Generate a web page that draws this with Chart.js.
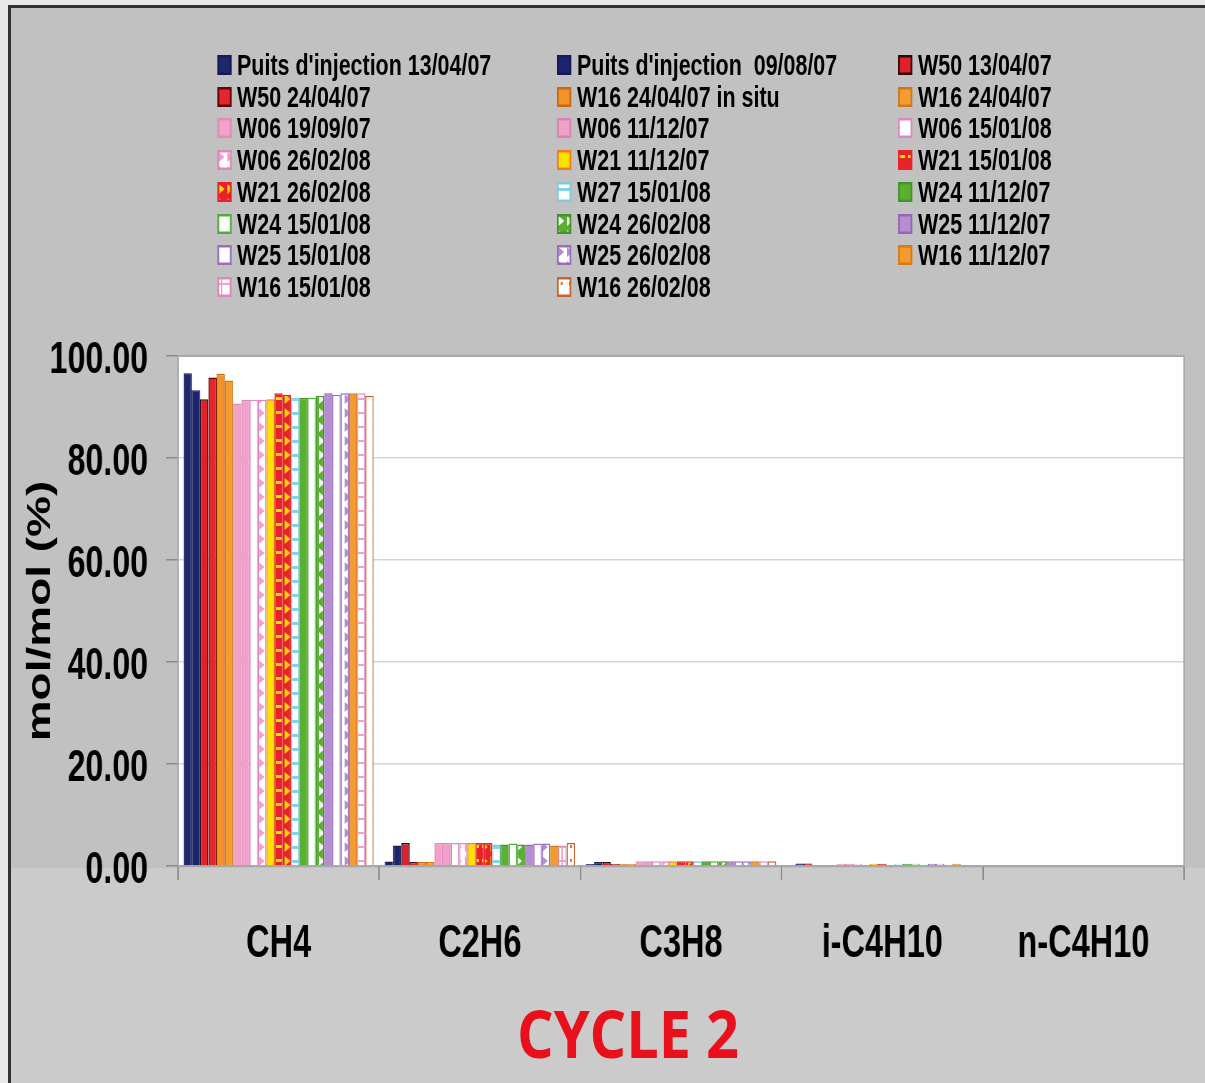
<!DOCTYPE html>
<html><head><meta charset="utf-8">
<script src="https://cdn.jsdelivr.net/npm/chart.js@4.4.1/dist/chart.umd.min.js"></script>
<style>
html,body{margin:0;padding:0;width:1205px;height:1083px;overflow:hidden;background:#e8e8e8;}
#frame{position:absolute;left:8px;top:5px;width:1197px;height:1078px;box-sizing:border-box;border-top:3px solid #333;border-left:3px solid #333;
  background:linear-gradient(to bottom,#c1c1c1 0,#c1c1c1 860px,#cbcbcb 860px,#cbcbcb 100%);}
#squash{position:absolute;left:0;top:0;width:1685px;height:1083px;transform:scaleX(0.715);transform-origin:0 0;}
#c{position:absolute;left:0;top:0;}
.item{position:absolute;height:32px;display:flex;align-items:center;font:bold 30px 'Liberation Sans',Arial,sans-serif;color:#000;white-space:pre;}
.item canvas{margin-right:8px;flex:none;}
#cycle{position:absolute;left:328px;top:999px;width:600px;text-align:center;font:bold 67px 'Open Sans','Noto Sans',sans-serif;line-height:1;color:#e8111b;transform:scaleX(0.86);}
</style></head>
<body>
<div id="frame"></div>
<div id="squash"><canvas id="c" width="1685" height="1083"></canvas><div id="legend"></div></div>
<div id="cycle">CYCLE 2</div>
<script>
// ---------- data ----------
const categories = ['CH4', 'C2H6', 'C3H8', 'i-C4H10', 'n-C4H10'];
const seriesNames = [
  "Puits d'injection 13/04/07", "Puits d'injection  09/08/07", "W50 13/04/07",
  "W50 24/04/07", "W16 24/04/07 in situ", "W16 24/04/07",
  "W06 19/09/07", "W06 11/12/07", "W06 15/01/08",
  "W06 26/02/08", "W21 11/12/07", "W21 15/01/08",
  "W21 26/02/08", "W27 15/01/08", "W24 11/12/07",
  "W24 15/01/08", "W24 26/02/08", "W25 11/12/07",
  "W25 15/01/08", "W25 26/02/08", "W16 11/12/07",
  "W16 15/01/08", "W16 26/02/08"
];
const ch4    = [96.6, 93.3, 91.5, 95.8, 96.5, 95.2, 90.7, 91.4, 91.4, 91.4, 91.5, 92.7, 92.4, 91.8, 91.8, 91.8, 92.2, 92.7, 92.4, 92.7, 92.7, 92.7, 92.2];
const c2h6   = [0.9, 4.0, 4.5, 0.8, 0.8, 0.8, 4.5, 4.5, 4.5, 4.5, 4.5, 4.5, 4.5, 4.2, 4.2, 4.4, 4.2, 4.2, 4.4, 4.4, 4.0, 4.0, 4.5];
const c3h8   = [0.4, 0.8, 0.8, 0.4, 0.4, 0.4, 0.95, 0.95, 0.95, 0.95, 0.95, 0.95, 0.95, 0.95, 0.95, 0.95, 0.95, 0.95, 0.95, 0.95, 0.95, 0.95, 0.95];
const iC4h10 = [0, 0.5, 0.5, 0, 0, 0, 0.45, 0.45, 0.45, 0, 0.45, 0.45, 0, 0.45, 0.45, 0.45, 0, 0.45, 0.45, 0, 0.45, 0, 0];
const nC4h10 = [0, 0, 0, 0, 0, 0, 0, 0, 0, 0, 0, 0, 0, 0, 0, 0, 0, 0, 0, 0, 0, 0, 0];
const yTickValues = [0, 20, 40, 60, 80, 100];

// ---------- styles ----------
function pat(kind, fg, bg) {
  const c = document.createElement('canvas');
  const w = 12, h = 14;
  c.width = w; c.height = h;
  const g = c.getContext('2d');
  g.fillStyle = bg; g.fillRect(0, 0, w, h);
  g.fillStyle = fg;
  if (kind === 'tri') { g.beginPath(); g.moveTo(2, 2); g.lineTo(10, 7); g.lineTo(2, 12); g.closePath(); g.fill(); }
  else if (kind === 'hline') { g.fillRect(0, 6, w, 3); }
  else if (kind === 'grid') { g.fillRect(0, 6, w, 2); g.fillRect(5, 0, 2, h); }
  else if (kind === 'dash') { g.fillRect(2, 5, 8, 3); }
  else if (kind === 'dot') { g.fillRect(5, 5, 3, 3); }
  return g.createPattern(c, 'repeat');
}
const styles = [
  {bg: '#1e276e', bd: '#141a55'},
  {bg: '#1c2470', bd: '#141a55'},
  {bg: '#e2202a', bd: '#2a0a0a'},
  {bg: '#e8242c', bd: '#5a0a0a'},
  {bg: '#f3922a', bd: '#c86814'},
  {bg: '#f59c30', bd: '#c87a1c'},
  {bg: '#f2a2c8', bd: '#e58ab8'},
  {bg: '#f0a0ca', bd: '#d785b5'},
  {bg: '#ffffff', bd: '#de86c0'},
  {bg: pat('tri', '#f0a0cc', '#ffffff'), bd: '#de86c0'},
  {bg: '#ffe100', bd: '#f07a1e'},
  {bg: pat('dash', '#ffe100', '#e8222a'), bd: '#e8222a'},
  {bg: pat('tri', '#ffd800', '#e8222a'), bd: '#e8222a'},
  {bg: pat('hline', '#80d4e6', '#ffffff'), bd: '#7ccbe0'},
  {bg: '#5bb030', bd: '#40962a'},
  {bg: '#ffffff', bd: '#4fae3c'},
  {bg: pat('tri', '#ffffff', '#5bb030'), bd: '#40962a'},
  {bg: '#b48ed0', bd: '#9466b8'},
  {bg: '#ffffff', bd: '#9a6ebd'},
  {bg: pat('tri', '#b48ed0', '#ffffff'), bd: '#9a6ebd'},
  {bg: '#f59a2c', bd: '#d47a18'},
  {bg: pat('grid', '#f0a0cc', '#ffffff'), bd: '#de86c0'},
  {bg: pat('dot', '#e07a30', '#ffffff'), bd: '#c8642a'}
];

const byCategory = [ch4, c2h6, c3h8, iC4h10, nC4h10];
const datasets = seriesNames.map((name, i) => ({
  label: name,
  data: byCategory.map(arr => arr[i]),
  backgroundColor: styles[i].bg,
  borderColor: styles[i].bd,
  borderWidth: 1.5,
  borderSkipped: 'start'
}));

// ---------- legend (HTML, 3 columns, row-major) ----------
const legendEl = document.getElementById('legend');
const colX = [303.5, 779, 1256];
datasets.forEach((ds, i) => {
  const r = Math.floor(i / 3), col = i % 3;
  const cy = 65 + 31.7 * r;
  const item = document.createElement('div');
  item.className = 'item';
  item.style.left = colX[col] + 'px';
  item.style.top = (cy - 16) + 'px';
  const sw = document.createElement('canvas');
  sw.width = 20; sw.height = 20;
  const g = sw.getContext('2d');
  g.fillStyle = ds.backgroundColor; g.fillRect(0, 0, 20, 20);
  g.strokeStyle = ds.borderColor; g.lineWidth = 2.5; g.strokeRect(1.25, 1.25, 17.5, 17.5);
  item.appendChild(sw);
  const t = document.createElement('span');
  t.textContent = ds.label;
  item.appendChild(t);
  legendEl.appendChild(item);
});

// ---------- chart ----------
const FONT = "'Liberation Sans', Arial, sans-serif";
const plotBg = {
  id: 'plotBg',
  beforeDraw(chart) {
    const {ctx, chartArea: a} = chart;
    ctx.save(); ctx.fillStyle = '#ffffff'; ctx.fillRect(a.left, a.top, a.right - a.left, a.bottom - a.top); ctx.restore();
  },
  beforeDatasetsDraw(chart) {
    const {ctx, chartArea: a} = chart;
    ctx.save(); ctx.strokeStyle = '#a8a8a8'; ctx.lineWidth = 2;
    ctx.strokeRect(a.left, a.top, a.right - a.left, a.bottom - a.top); ctx.restore();
  }
};
new Chart(document.getElementById('c'), {
  type: 'bar',
  data: {labels: categories, datasets},
  options: {
    responsive: false, animation: false, devicePixelRatio: 1,
    layout: {padding: {left: 0, right: 29, top: 356, bottom: 97}},
    plugins: {legend: {display: false}, tooltip: {enabled: false}, title: {display: false}},
    datasets: {bar: {categoryPercentage: 0.945, barPercentage: 1.0}},
    scales: {
      x: {
        grid: {display: true, drawOnChartArea: false, drawTicks: true, tickLength: 14, tickColor: '#8a8a8a', color: '#8a8a8a', offset: true, lineWidth: 2},
        border: {display: true, color: '#8a8a8a', width: 2},
        ticks: {font: {family: FONT, size: 45.5, weight: 'bold'}, color: '#000', padding: 37, maxRotation: 0, autoSkip: false},
        afterFit(s) { s.height = 120; }
      },
      y: {
        min: 0, max: 100,
        afterBuildTicks(s) { s.ticks = yTickValues.map(v => ({value: v})); },
        ticks: {font: {family: FONT, size: 45, weight: 'bold'}, color: '#000', padding: 25, labelOffset: 5, callback: v => Number(v).toFixed(2)},
        grid: {color: '#d6d6d6', tickColor: '#8a8a8a', tickLength: 17, drawTicks: true, lineWidth: 1.5},
        border: {display: true, color: '#9a9a9a', width: 2},
        title: {display: true, text: 'mol/mol (%)', font: {family: FONT, size: 46, weight: 'bold'}, color: '#000', padding: {top: 30, bottom: 0}},
        afterFit(s) { s.width = 249; }
      }
    }
  },
  plugins: [plotBg]
});
</script>
</body></html>
